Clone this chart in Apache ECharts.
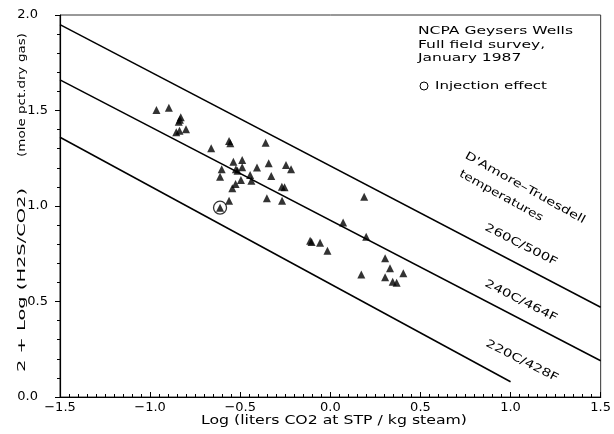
<!DOCTYPE html>
<html>
<head>
<meta charset="utf-8">
<script src="https://cdn.jsdelivr.net/npm/echarts@6/dist/echarts.min.js"></script>
<style>
html,body{margin:0;padding:0;background:#fff;}
#c{width:614px;height:434px;}
</style>
</head>
<body>
<div id="c"></div>
<script>
// ---- data ----
const xTicks = [-1.5, -1.0, -0.5, 0.0, 0.5, 1.0, 1.5];
const yTicks = [0.0, 0.5, 1.0, 1.5, 2.0];
const wells = [
  [-0.965,1.503],[-0.896,1.515],[-0.830,1.465],[-0.835,1.452],[-0.841,1.441],
  [-0.855,1.386],[-0.837,1.394],[-0.801,1.402],[-0.661,1.302],[-0.562,1.340],
  [-0.555,1.328],[-0.359,1.331],[-0.538,1.232],[-0.489,1.241],[-0.603,1.192],
  [-0.524,1.192],[-0.515,1.185],[-0.489,1.203],[-0.407,1.201],[-0.342,1.224],
  [-0.246,1.215],[-0.218,1.192],[-0.612,1.153],[-0.445,1.162],[-0.438,1.132],
  [-0.328,1.157],[-0.496,1.136],[-0.526,1.115],[-0.544,1.093],[-0.269,1.101],
  [-0.254,1.098],[-0.562,1.028],[-0.352,1.040],[-0.268,1.028],[-0.612,0.991],
  [0.188,1.049],[0.071,0.913],[0.199,0.839],[-0.112,0.818],[-0.104,0.812],
  [-0.057,0.808],[-0.016,0.766],[0.304,0.726],[0.331,0.674],[0.405,0.648],
  [0.172,0.642],[0.304,0.627],[0.346,0.604],[0.368,0.598]
];
const injection = [[-0.612,0.991]];
const line260 = [[-1.5,1.95],[1.5,0.47]];
const line240 = [[-1.5,1.66],[1.5,0.19]];
const line220 = [[-1.5,1.36],[1.0,0.08]];
const lineNames = ['260C/500F','240C/464F','220C/428F'];
const titleLines = ['NCPA Geysers Wells','Full field survey,','January 1987'];
const legendText = 'Injection effect';
const xTitle = 'Log (liters CO2 at STP / kg steam)';
const yTitleA = '2 + Log (H2S/CO2)';
const yTitleB = '(mole pct.dry gas)';
const dtTitle = ["D'Amore\u2013Truesdell", 'temperatures'];

// ---- chart ----
const FONT = 'DejaVu Sans';
const chart = echarts.init(document.getElementById('c'), null, {renderer:'canvas'});
const fmt = v => (v < 0 ? '\u2212' : '') + Math.abs(v).toFixed(1);
const deg = Math.PI/180;
const option = {
  animation:false,
  backgroundColor:'#fff',
  grid:{left:60,right:8,top:15,bottom:37,show:true,borderColor:'#333',borderWidth:1},
  xAxis:{
    type:'value',min:xTicks[0],max:xTicks[xTicks.length-1],interval:0.5,
    axisLine:{onZero:false,lineStyle:{color:'#000',width:1.2}},
    axisTick:{show:true,inside:true,length:5,lineStyle:{color:'#000'}},
    minorTick:{show:true,splitNumber:10,length:3,lineStyle:{color:'#000'}},
    splitLine:{show:false},
    axisLabel:{color:'#000',fontFamily:FONT,fontSize:13,margin:4,formatter:fmt}
  },
  yAxis:{
    type:'value',min:yTicks[0],max:yTicks[yTicks.length-1],interval:0.5,
    axisLine:{show:true,onZero:false,lineStyle:{color:'#000',width:1.2}},
    axisTick:{show:true,inside:false,length:5,lineStyle:{color:'#000'}},
    minorTick:{show:true,splitNumber:5,length:3,lineStyle:{color:'#000'}},
    splitLine:{show:false},
    axisLabel:{color:'#000',fontFamily:FONT,fontSize:13,margin:12,
      formatter:v => (v===yTicks[0]||v===yTicks[yTicks.length-1]) ? '{e|'+fmt(v)+'}' : fmt(v),
      rich:{e:{fontFamily:FONT,fontSize:13,color:'#000',padding:[0,10,0,0]}}}
  },
  series:[
    {type:'line',data:line260,symbol:'none',lineStyle:{color:'#000',width:1.5},silent:true},
    {type:'line',data:line240,symbol:'none',lineStyle:{color:'#000',width:1.5},silent:true},
    {type:'line',data:line220,symbol:'none',lineStyle:{color:'#000',width:1.5},silent:true},
    {type:'scatter',data:wells,symbol:'triangle',symbolSize:[8,8],itemStyle:{color:'#000'}},
    {type:'scatter',data:injection,symbol:'circle',symbolSize:13,itemStyle:{color:'rgba(0,0,0,0)',borderColor:'#000',borderWidth:1.3}}
  ]
};
chart.setOption(option);

const mctx = document.createElement('canvas').getContext('2d');
function measure(t, font){ mctx.font = font; return mctx.measureText(t).width; }
// text element: (x,y) anchor, target width w along the text, rotation in degrees (clockwise positive)
function txt(x, y, t, size, w, rotDeg, align){
  const font = size + 'px "' + FONT + '"';
  const s = w ? w / measure(t, font) : 1;
  return {type:'text', x:x, y:y, rotation: -(rotDeg||0)*deg, scaleX:s, scaleY:1,
    style:{text:t, fill:'#000', font:font, textAlign:align||'center', textVerticalAlign:'middle'}};
}
const g = [];
const blockScale = 155 / measure(titleLines[0], '11px "' + FONT + '"');
titleLines.forEach((t,i)=>{ const e = txt(418, 31.5 + i*13.5, t, 11, 0, 0, 'left'); e.scaleX = blockScale; g.push(e); });
g.push({type:'circle',shape:{cx:424,cy:86,r:4},style:{fill:'none',stroke:'#000',lineWidth:1}});
g.push(txt(435, 86, legendText, 10, 112, 0, 'left'));
g.push(txt(334, 421, xTitle, 13, 266, 0));
g.push(txt(22, 280, yTitleA, 11, 184, -90));
g.push(txt(22, 95, yTitleB, 11, 124, -90));
// D'Amore-Truesdell caption and line labels
g.push(txt(525, 188, dtTitle[0], 11, 136, 29));
g.push(txt(501, 196, dtTitle[1], 11, 94, 29));
const lblPos = [[521,245],[521,301],[522,361]];
lineNames.forEach((t,i)=>g.push(txt(lblPos[i][0], lblPos[i][1], t, 11, 80, 27)));
chart.setOption({graphic:{elements:g}});
</script>
</body>
</html>
